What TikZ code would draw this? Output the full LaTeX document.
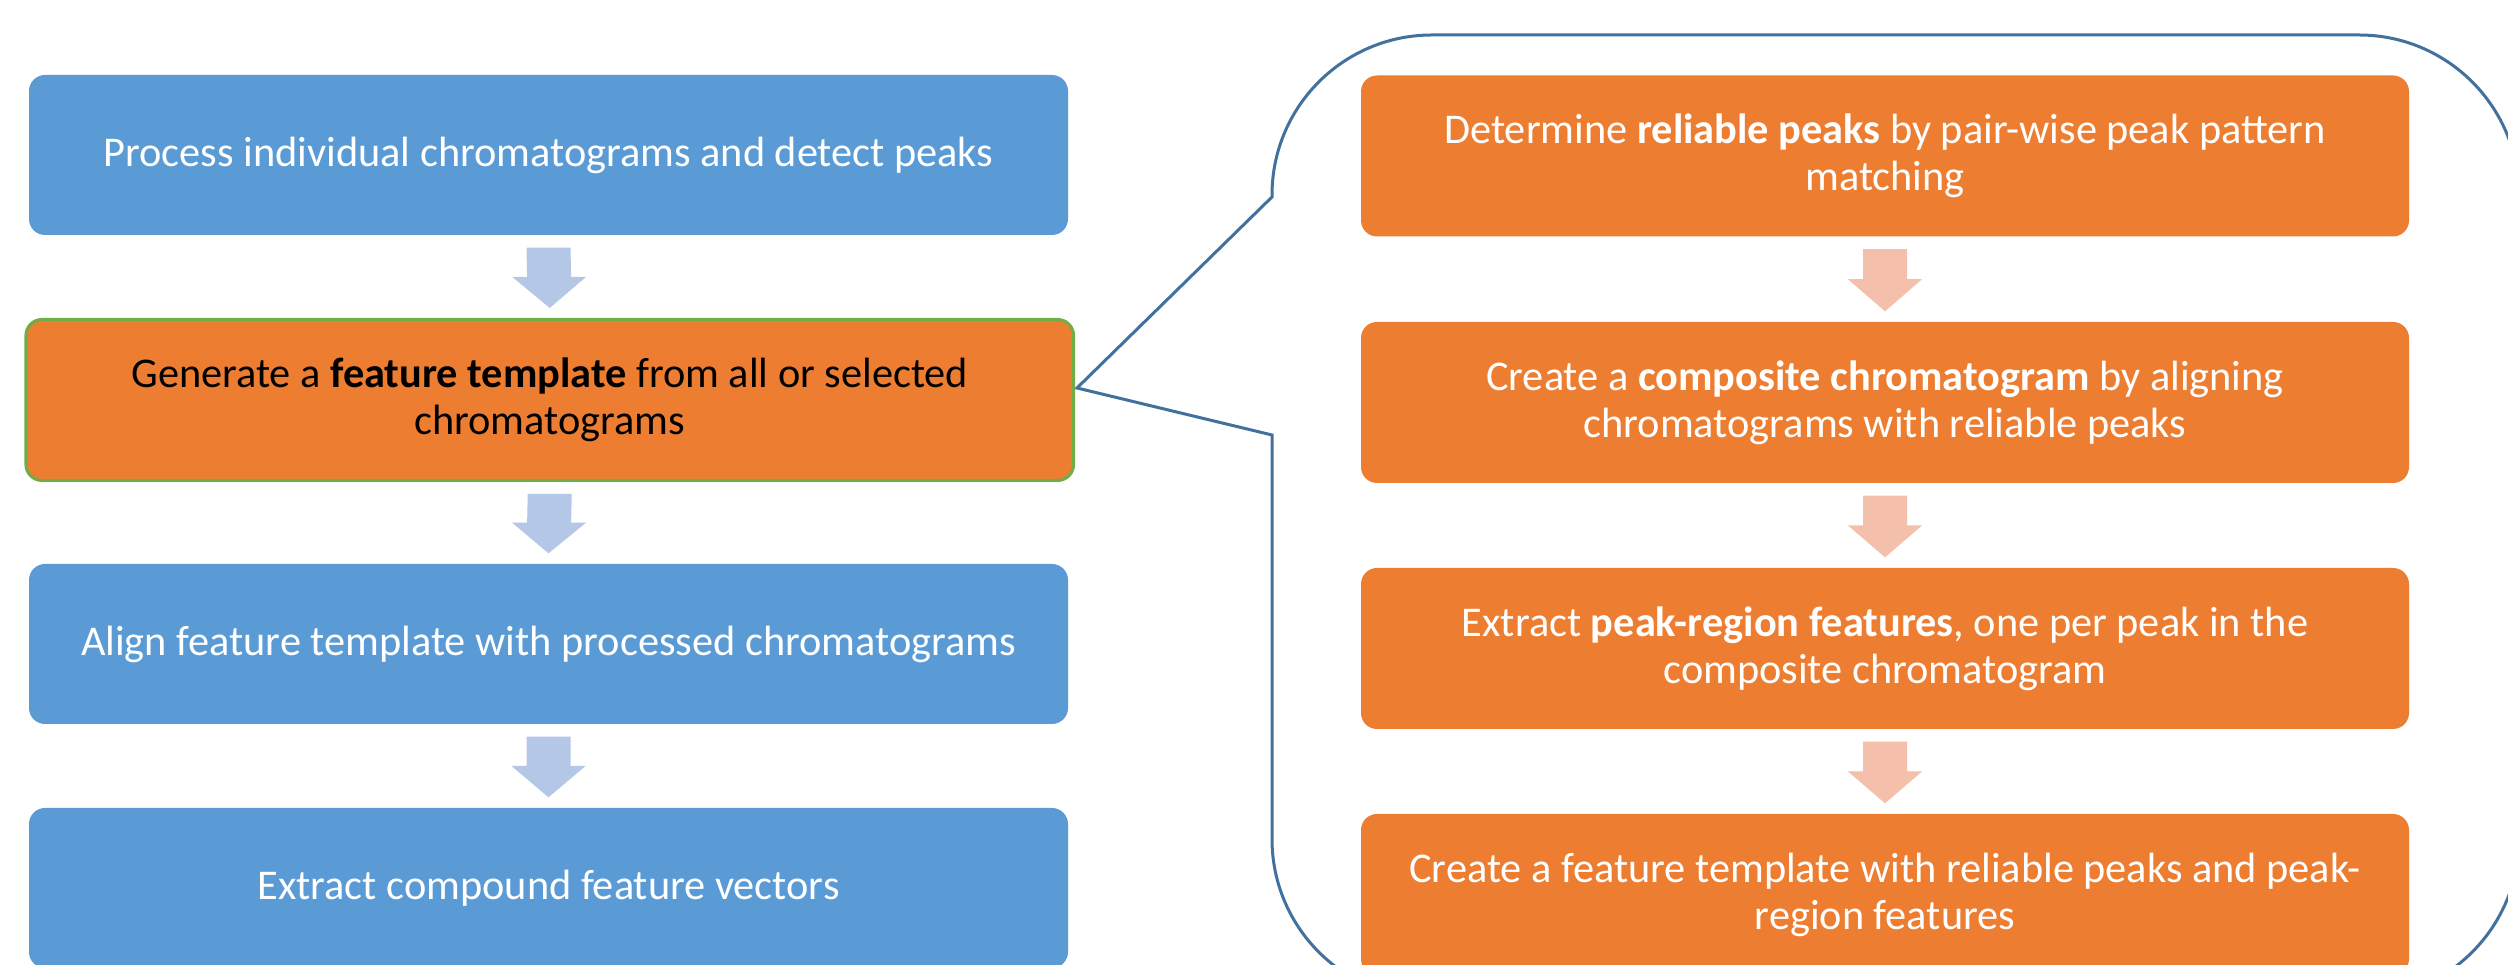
\documentclass[tikz,border=0pt]{standalone}
\usepackage{fontspec}
\setmainfont{Carlito}
\usetikzlibrary{calc}
\definecolor{boxblue}{HTML}{5B9BD5}
\definecolor{boxorange}{HTML}{ED7D31}
\definecolor{arrblue}{HTML}{B4C7E7}
\definecolor{arrorange}{HTML}{F4C0AC}
\definecolor{bordergreen}{HTML}{70AD47}
\definecolor{calloutblue}{HTML}{41719C}
\newcommand{\blockarrow}[3]{%
  \fill[#3] ($(#1.south)+(-22,-12)$) -- ($(#1.south)+(22,-12)$)
    -- ($(#1.south)!0.5!(#2.north)+(22,0)$) -- ($(#1.south)!0.5!(#2.north)+(37,0)$)
    -- ($(#2.north)+(0,10)$)
    -- ($(#1.south)!0.5!(#2.north)+(-37,0)$) -- ($(#1.south)!0.5!(#2.north)+(-22,0)$) -- cycle;}
\tikzset{
  basebox/.style={rectangle, rounded corners=4.8pt, align=center, inner sep=0pt,
    font=\fontsize{12.7pt}{14.1pt}\selectfont},
  leftbox/.style={basebox, minimum width=311.7pt, minimum height=48pt},
  bluebox/.style={leftbox, fill=boxblue, text=white},
  keybox/.style={basebox, fill=boxorange, draw=bordergreen, line width=0.9pt, text=black,
    minimum width=314.3pt, minimum height=48.3pt},
  rightbox/.style={basebox, fill=boxorange, text=white, minimum width=314.4pt, minimum height=48.3pt},
  callout/.style={draw=calloutblue, line width=0.9pt}
}
\begin{document}
\begin{tikzpicture}[x=0.3pt, y=0.3pt]
\clip (0,0) rectangle (2508,965);
\fill[white] (0,0) rectangle (2508,965);
% callout outline
\coordinate (tip) at (1077,577);
\draw[callout] (tip) -- (1272,530) -- (1272,126)
  arc[start angle=180, end angle=270, radius=48pt] -- (2359,-34)
  arc[start angle=270, end angle=360, radius=48pt] -- (2519,770)
  arc[start angle=0, end angle=90, radius=48pt] -- (1432,930)
  arc[start angle=90, end angle=180, radius=48pt] -- (1272,768) -- cycle;
% left column
\node[bluebox] (b1) at (548.5,810) {Process individual chromatograms and detect peaks};
\node[keybox] (b2) at (549.75,565) {Generate a \textbf{feature template} from all or selected\\chromatograms};
\node[bluebox] (b3) at (548.5,321) {Align feature template with processed chromatograms};
\node[bluebox] (b4) at (548.5,77) {Extract compound feature vectors};
\blockarrow{b1}{b2}{arrblue}
\blockarrow{b2}{b3}{arrblue}
\blockarrow{b3}{b4}{arrblue}
% right column
\node[rightbox] (r1) at (1885,809) {Determine \textbf{reliable peaks} by pair-wise peak pattern\\matching};
\node[rightbox] (r2) at (1885,562.5) {Create a \textbf{composite chromatogram} by aligning\\chromatograms with reliable peaks};
\node[rightbox] (r3) at (1885,316.5) {Extract \textbf{peak-region features}, one per peak in the\\composite chromatogram};
\node[rightbox] (r4) at (1885,70.5) {Create a feature template with reliable peaks and peak-\\region features};
\blockarrow{r1}{r2}{arrorange}
\blockarrow{r2}{r3}{arrorange}
\blockarrow{r3}{r4}{arrorange}
\end{tikzpicture}
\end{document}
